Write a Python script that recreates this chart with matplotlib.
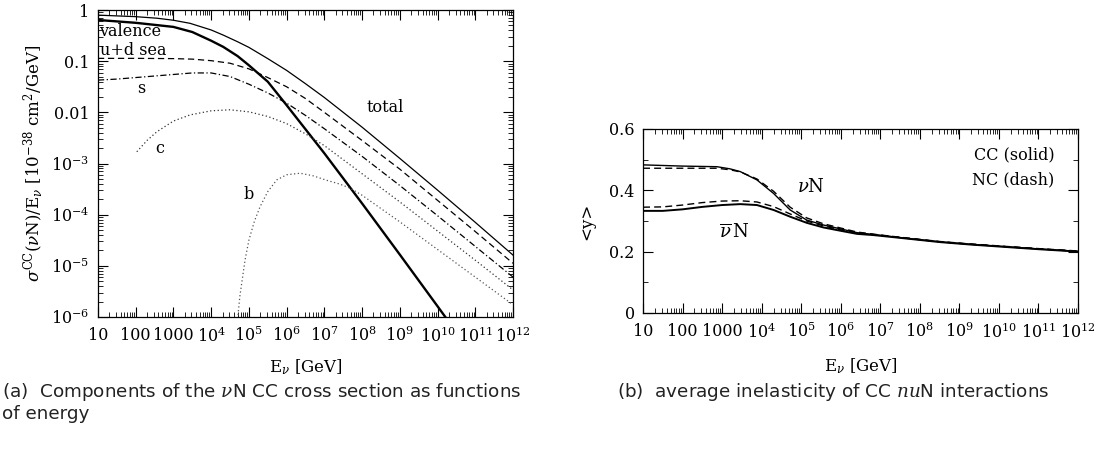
import numpy as np
import matplotlib
matplotlib.use("Agg")
import matplotlib.pyplot as plt
from matplotlib.ticker import LogLocator, NullFormatter, MultipleLocator

plt.rcParams['mathtext.fontset'] = 'dejavuserif'
plt.rcParams['font.family'] = ['DejaVu Serif']

# ---- panel (a): components of sigma/E (log10 E, log10 value)
total_logE = [1, 2, 2.56, 3, 3.44, 4, 4.32, 4.7, 5.0, 5.5, 6.0, 6.5, 7, 8, 9, 10, 11, 12]
total_logv = [-0.10, -0.13, -0.16, -0.20, -0.26, -0.39, -0.49, -0.62, -0.73, -0.95, -1.18, -1.44,
              -1.71, -2.29, -2.90, -3.52, -4.15, -4.79]

val_logE = [1, 2, 3, 3.5, 4, 4.32, 4.7, 5, 5.5, 6, 6.5, 7, 8, 9, 10, 10.6]
val_logv = [-0.195, -0.25, -0.33, -0.43, -0.60, -0.72, -0.90, -1.08, -1.40, -1.86, -2.33, -2.80,
            -3.78, -4.78, -5.79, -6.40]

sea_logE = [1, 2, 3, 3.5, 4, 4.5, 5, 5.5, 6, 6.5, 7, 8, 9, 10, 11, 12]
sea_logv = [-0.945, -0.945, -0.95, -0.96, -0.99, -1.04, -1.15, -1.32, -1.50, -1.73, -2.00, -2.55,
            -3.11, -3.72, -4.33, -4.95]

s_logE = [1, 1.5, 2, 2.5, 3, 3.5, 4, 4.5, 5, 5.5, 6, 6.5, 7, 8, 9, 10, 11, 12]
s_logv = [-1.37, -1.35, -1.32, -1.29, -1.26, -1.23, -1.23, -1.30, -1.45, -1.62, -1.82, -2.06,
          -2.32, -2.86, -3.43, -4.02, -4.62, -5.22]

c_logE = [2.03, 2.3, 2.56, 3, 3.44, 4, 4.5, 5, 5.5, 6, 6.5, 7, 8, 9, 10, 11, 12]
c_logv = [-2.77, -2.55, -2.38, -2.17, -2.05, -1.97, -1.95, -1.99, -2.08, -2.22, -2.42, -2.65,
          -3.20, -3.75, -4.32, -4.89, -5.47]

b_logE = [4.68, 4.72, 4.76, 4.81, 4.9, 5.0, 5.15, 5.3, 5.5, 5.74, 6.0, 6.36, 6.7, 7.07, 7.4, 7.68,
          8, 9, 10, 11, 12]
b_logv = [-6.4, -5.9, -5.6, -5.34, -4.88, -4.50, -4.12, -3.84, -3.55, -3.32, -3.22, -3.19, -3.24,
          -3.33, -3.40, -3.48, -3.62, -4.14, -4.68, -5.22, -5.76]

# ---- panel (b): average inelasticity <y>
nu_logE = [1, 2, 2.87, 3.2, 3.46, 3.88, 4.3, 4.72, 5.14, 5.56, 6.0, 6.41, 6.83, 7.5, 8.52, 9.3,
           10.2, 11.0, 11.9, 12]
nu_cc = [0.483, 0.479, 0.477, 0.470, 0.461, 0.434, 0.390, 0.336, 0.303, 0.287, 0.274, 0.262,
         0.256, 0.246, 0.232, 0.224, 0.216, 0.209, 0.202, 0.201]
nu_nc = [0.472, 0.472, 0.472, 0.467, 0.460, 0.437, 0.397, 0.345, 0.310, 0.291, 0.277, 0.264,
         0.257, 0.247, 0.233, 0.225, 0.217, 0.210, 0.203, 0.202]

nub_logE = [1, 1.5, 2, 2.5, 3, 3.46, 3.88, 4.3, 4.72, 5.14, 5.56, 6.0, 6.41, 6.83, 7.5, 8.52, 9.3,
            10.2, 11.0, 11.9, 12]
nub_cc = [0.333, 0.333, 0.338, 0.346, 0.352, 0.355, 0.352, 0.336, 0.314, 0.294, 0.279, 0.268,
          0.258, 0.254, 0.245, 0.231, 0.223, 0.215, 0.208, 0.201, 0.200]
nub_nc = [0.345, 0.346, 0.352, 0.360, 0.365, 0.366, 0.362, 0.347, 0.323, 0.300, 0.284, 0.271,
          0.261, 0.256, 0.246, 0.232, 0.224, 0.216, 0.209, 0.202, 0.201]

x_ticks = [1e1, 1e2, 1e3, 1e4, 1e5, 1e6, 1e7, 1e8, 1e9, 1e10, 1e11, 1e12]
x_ticklabels = ['10', '100', '1000'] + [r'$10^{%d}$' % k for k in range(4, 13)]
y_ticks_a = [1e-6, 1e-5, 1e-4, 1e-3, 1e-2, 1e-1, 1]
y_ticklabels_a = [r'$10^{-6}$', r'$10^{-5}$', r'$10^{-4}$', r'$10^{-3}$', '0.01', '0.1', '1']

tick_fs = 11.5


def E(lst):
    return 10.0 ** np.array(lst)


def style_log_x(ax):
    ax.set_xscale('log')
    ax.set_xlim(10, 1e12)
    ax.set_xticks(x_ticks)
    ax.set_xticklabels(x_ticklabels)
    ax.xaxis.set_minor_locator(LogLocator(base=10, subs=np.arange(2, 10), numticks=100))
    ax.xaxis.set_minor_formatter(NullFormatter())
    ax.tick_params(which='both', direction='in', top=True, right=True, labelsize=tick_fs)
    ax.tick_params(which='major', length=7, width=0.8)
    ax.tick_params(which='minor', length=3.5, width=0.6)
    ax.tick_params(axis='x', which='major', pad=7)
    ax.tick_params(axis='y', which='major', pad=6)
    for sp in ax.spines.values():
        sp.set_linewidth(0.9)


fig = plt.figure(figsize=(11.03, 4.51), dpi=100)

# ---------------- panel (a)
ax1 = fig.add_axes([0.0888, 0.2971, 0.3763, 0.6807])
ax1.plot(E(total_logE), E(total_logv), color='black', lw=0.9)
ax1.plot(E(val_logE), E(val_logv), color='black', lw=1.7)
ax1.plot(E(sea_logE), E(sea_logv), color='black', lw=0.9, dashes=(5, 3))
ax1.plot(E(s_logE), E(s_logv), color='black', lw=0.9, dashes=(5, 2, 1, 2))
ax1.plot(E(c_logE), E(c_logv), color='#333333', lw=0.9, dashes=(1, 2))
ax1.plot(E(b_logE), E(b_logv), color='#555555', lw=0.9, dashes=(1, 2))

ax1.set_yscale('log')
ax1.set_ylim(1e-6, 1)
ax1.set_yticks(y_ticks_a)
ax1.set_yticklabels(y_ticklabels_a)
ax1.yaxis.set_minor_locator(LogLocator(base=10, subs=np.arange(2, 10), numticks=100))
ax1.yaxis.set_minor_formatter(NullFormatter())
style_log_x(ax1)

ax1.set_xlabel(r'E$_\nu$ [GeV]', fontsize=12, labelpad=8)
ax1.set_ylabel(r'$\sigma^{\rm CC}$($\nu$N)/E$_\nu$ [10$^{-38}$ cm$^2$/GeV]', fontsize=12,
               labelpad=4)

lab_kw = dict(fontsize=11.5, color='black')
ax1.text(11, 10 ** -0.42, 'valence', va='center', ha='left', **lab_kw)
ax1.text(11, 10 ** -0.80, 'u+d sea', va='center', ha='left', **lab_kw)
ax1.text(10 ** 2.15, 10 ** -1.53, 's', va='center', ha='center', **lab_kw)
ax1.text(10 ** 2.65, 10 ** -2.7, 'c', va='center', ha='center', **lab_kw)
ax1.text(10 ** 5.0, 10 ** -3.6, 'b', va='center', ha='center', **lab_kw)
ax1.text(10 ** 8.6, 10 ** -1.9, 'total', va='center', ha='center', **lab_kw)

# ---------------- panel (b)
ax2 = fig.add_axes([0.583, 0.306, 0.3943, 0.408])
ax2.plot(E(nu_logE), nu_cc, color='black', lw=1.0)
ax2.plot(E(nu_logE), nu_nc, color='black', lw=1.0, dashes=(5, 3))
ax2.plot(E(nub_logE), nub_cc, color='black', lw=1.4)
ax2.plot(E(nub_logE), nub_nc, color='black', lw=1.0, dashes=(5, 3))
ax2.set_ylim(0, 0.6)
ax2.set_yticks([0, 0.2, 0.4, 0.6])
ax2.set_yticklabels(['0', '0.2', '0.4', '0.6'])
ax2.yaxis.set_minor_locator(MultipleLocator(0.1))
style_log_x(ax2)

ax2.set_xlabel(r'E$_\nu$ [GeV]', fontsize=12, labelpad=10)
ax2.set_ylabel(r'<y>', fontsize=12, labelpad=10)

ax2.text(10 ** 5.25, 0.41, r'$\nu$N', va='center', ha='center', fontsize=13)
ax2.text(10 ** 3.3, 0.262, r'$\overline{\nu}\,$N', va='center', ha='center', fontsize=13)
ax2.text(10 ** 11.4, 0.515, 'CC (solid)', va='center', ha='right', **lab_kw)
ax2.text(10 ** 11.4, 0.434, 'NC (dash)', va='center', ha='right', **lab_kw)

# ---------------- captions
cap_kw = dict(fontsize=13.2, family=['DejaVu Sans'], color='#222222', va='center', ha='left')
fig.text(0.002, 1 - 392 / 451, r'(a)  Components of the $\nu$N CC cross section as functions', **cap_kw)
fig.text(0.002, 1 - 414 / 451, 'of energy', **cap_kw)
fig.text(0.559, 1 - 392 / 451, r'(b)  average inelasticity of CC $nu$N interactions', **cap_kw)

fig.savefig('out.png', dpi=100)
